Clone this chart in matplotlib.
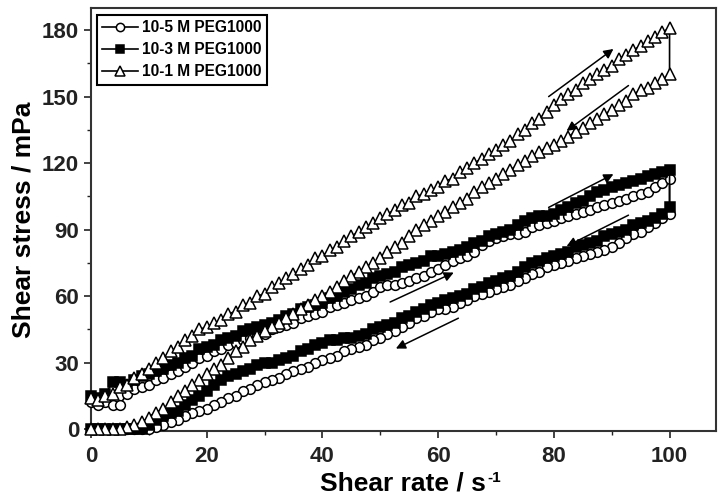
import numpy as np
import matplotlib
matplotlib.use("Agg")
import matplotlib.pyplot as plt

plt.rcParams['font.family'] = ['Liberation Sans', 'DejaVu Sans']

# shear rate grid for each sweep (s^-1)
shear_rate = np.linspace(0, 100, 81)

# 10-5 M PEG1000 (circles)
c5_up = [12, 11, 12, 11, 11, 16, 18, 19, 20, 22, 23, 25, 26, 28, 30, 32, 33, 35, 36, 38,
         39, 40, 41, 42, 43, 45, 46, 47, 48, 50, 51, 52, 53, 55, 56, 57, 58, 59, 60, 62,
         64, 65, 65, 66, 67, 68, 69, 71, 72, 74, 76, 77, 78, 80, 83, 85, 86, 87, 88, 88,
         89, 91, 92, 93, 94, 95, 96, 97, 98, 99, 100, 101, 102, 103, 104, 105, 106, 107, 109, 111,
         113]
c5_down = [0, 0, 0, 0, 0, 0, 0, 0, 0, 1, 2, 3, 4, 6, 7, 8, 9, 11, 12, 14,
           15, 17, 18, 20, 21, 22, 23, 25, 26, 27, 28, 30, 31, 32, 33, 35, 36, 37, 38, 40,
           41, 43, 44, 46, 48, 50, 51, 53, 54, 54, 55, 57, 58, 60, 61, 62, 63, 64, 65, 67,
           68, 70, 71, 73, 74, 75, 76, 77, 78, 79, 80, 81, 82, 84, 86, 88, 89, 91, 93, 95,
           97]

# 10-3 M PEG1000 (squares)
c3_up = [15, 14, 16, 21, 21, 20, 22, 24, 25, 26, 27, 29, 30, 32, 33, 36, 37, 38, 40, 41,
         42, 44, 45, 46, 47, 48, 49, 51, 52, 54, 55, 56, 57, 59, 60, 62, 63, 65, 66, 68,
         69, 70, 71, 73, 74, 75, 76, 78, 78, 79, 80, 81, 82, 84, 85, 87, 88, 89, 90, 92,
         94, 95, 96, 96, 97, 99, 100, 102, 103, 105, 107, 108, 109, 110, 111, 112, 113, 114, 115, 116,
         117]
c3_down = [0, 0, 0, 0, 0, 0, 0, 0, 2, 4, 6, 7, 8, 11, 13, 15, 17, 20, 22, 24,
           25, 26, 27, 29, 30, 30, 31, 32, 33, 35, 36, 38, 39, 40, 40, 41, 41, 42, 43, 45,
           46, 47, 48, 50, 51, 53, 54, 56, 57, 58, 59, 60, 61, 63, 64, 66, 67, 68, 69, 71,
           73, 75, 76, 77, 78, 79, 80, 82, 83, 84, 85, 87, 88, 89, 90, 92, 93, 94, 95, 97,
           100]

# 10-1 M PEG1000 (triangles)
c1_up = [14, 13, 15, 16, 19, 20, 23, 25, 27, 30, 32, 35, 37, 40, 42, 45, 46, 48, 49, 52,
         53, 56, 57, 60, 61, 64, 66, 68, 70, 72, 74, 77, 78, 81, 82, 85, 87, 89, 91, 93,
         95, 97, 99, 101, 102, 105, 106, 108, 109, 112, 113, 116, 118, 120, 122, 124, 126, 128, 130, 133,
         135, 138, 140, 143, 146, 149, 151, 153, 156, 158, 160, 162, 164, 167, 169, 171, 173, 175, 177, 179,
         181]
c1_down = [0, 0, 0, 0, 0, 1, 2, 3, 5, 7, 9, 12, 15, 17, 20, 22, 25, 27, 29, 32,
           35, 37, 40, 42, 44, 46, 48, 50, 52, 54, 56, 58, 60, 62, 64, 67, 69, 71, 73, 75,
           77, 80, 82, 84, 87, 90, 92, 94, 96, 98, 100, 102, 104, 107, 109, 111, 113, 115, 117, 119,
           121, 123, 125, 127, 128, 130, 132, 134, 136, 138, 140, 142, 144, 146, 148, 151, 153, 154, 156, 158,
           160]

labels = ['10-5 M PEG1000', '10-3 M PEG1000', '10-1 M PEG1000']

fig = plt.figure(figsize=(7.18, 4.99), dpi=100)
ax = fig.add_axes([0.1267, 0.1363, 0.8703, 0.8477])

x_loop = np.concatenate([shear_rate, shear_rate[::-1]])

def loop(up, down):
    return np.concatenate([np.asarray(up, float), np.asarray(down, float)[::-1]])

ax.plot(x_loop, loop(c5_up, c5_down), '-o', color='black', lw=1.2, ms=7,
        mfc='white', mec='black', mew=1.1, label=labels[0], zorder=3, clip_on=False)
ax.plot(x_loop, loop(c3_up, c3_down), '-s', color='black', lw=1.2, ms=7,
        mfc='black', mec='black', mew=1.1, label=labels[1], zorder=4, clip_on=False)
ax.plot(x_loop, loop(c1_up, c1_down), '-^', color='black', lw=1.2, ms=8,
        mfc='white', mec='black', mew=1.1, label=labels[2], zorder=5, clip_on=False)

# direction arrows
arrows = [((79.1, 150), (90.3, 171.5)),
          ((92.9, 155), (82.2, 134.5)),
          ((79.1, 100), (90.3, 115)),
          ((92.9, 96.5), (82.2, 82.5)),
          ((51.7, 57.3), (62.7, 70.6)),
          ((63.5, 50), (52.7, 36.3))]
for start, end in arrows:
    ax.annotate('', xy=end, xytext=start,
                arrowprops=dict(arrowstyle='-|>', color='black', lw=1.1,
                                mutation_scale=14, shrinkA=0, shrinkB=0),
                zorder=6)

ax.set_xlim(0, 108)
ax.set_ylim(-0.9, 190)
ax.set_xticks([0, 20, 40, 60, 80, 100])
ax.set_xticks([10, 30, 50, 70, 90], minor=True)
ax.set_yticks([0, 30, 60, 90, 120, 150, 180])
ax.set_yticks([15, 45, 75, 105, 135, 165], minor=True)
ax.tick_params(axis='both', which='major', direction='out', length=5, width=1.2,
               labelsize=16, colors='#222222')
ax.tick_params(axis='x', which='major', pad=6)
ax.tick_params(axis='both', which='minor', direction='out', length=3, width=1.0,
               colors='#222222')
for lab in ax.get_xticklabels() + ax.get_yticklabels():
    lab.set_fontweight('bold')
for sp in ax.spines.values():
    sp.set_linewidth(1.5)
    sp.set_color('#333333')

ax.set_xlabel('Shear rate / s', fontsize=19, fontweight='bold', labelpad=3)
ax.annotate('-1', xy=(1, 1), xycoords=ax.xaxis.label, xytext=(0.5, 0.5),
            textcoords='offset points', ha='left', va='top',
            fontsize=11, fontweight='bold')
ax.set_ylabel('Shear stress / mPa', fontsize=19, fontweight='bold', labelpad=5)

leg = ax.legend(loc='upper left', bbox_to_anchor=(0.009, 0.984), borderaxespad=0,
                frameon=True, fancybox=False, edgecolor='black', framealpha=1,
                prop={'weight': 'bold', 'size': 11.2}, handlelength=2.3,
                handletextpad=0.25, borderpad=0.35, labelspacing=0.45,
                markerscale=0.85)
leg.get_frame().set_linewidth(1.5)

fig.savefig('out.png', dpi=100)
